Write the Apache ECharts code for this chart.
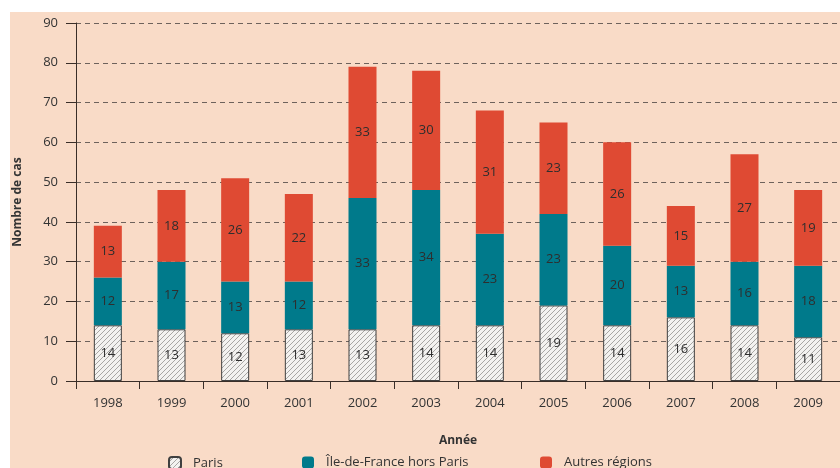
<!DOCTYPE html>
<html>
<head>
<meta charset="utf-8">
<script src="https://cdn.jsdelivr.net/npm/echarts@6/dist/echarts.min.js"></script>
<style>
  html, body { margin: 0; padding: 0; background: #fff; }
  #chart { width: 840px; height: 468px; }
</style>
</head>
<body>
<div id="chart"></div>
<script>
var years = ["1998", "1999", "2000", "2001", "2002", "2003", "2004", "2005", "2006", "2007", "2008", "2009"];
var paris = [14, 13, 12, 13, 13, 14, 14, 19, 14, 16, 14, 11];
var idf = [12, 17, 13, 12, 33, 34, 23, 23, 20, 13, 16, 18];
var autres = [13, 18, 26, 22, 33, 30, 31, 23, 26, 15, 27, 19];

// hatch pattern for Paris
function hatch() {
  var c = document.createElement("canvas");
  c.width = 5;
  c.height = 5;
  var ctx = c.getContext("2d");
  ctx.fillStyle = "#f3f2f0";
  ctx.fillRect(0, 0, 5, 5);
  ctx.strokeStyle = "#a8a6a4";
  ctx.lineWidth = 1;
  ctx.beginPath();
  ctx.moveTo(0, 5); ctx.lineTo(5, 0);
  ctx.moveTo(-2.5, 2.5); ctx.lineTo(2.5, -2.5);
  ctx.moveTo(2.5, 7.5); ctx.lineTo(7.5, 2.5);
  ctx.stroke();
  return c;
}

var font = "'Open Sans', 'Noto Sans', sans-serif";
var myChart = echarts.init(document.getElementById("chart"));

var label = {
  show: true,
  position: "inside",
  color: "#2e2e2e",
  fontSize: 13,
  fontFamily: font
};

var legendText = { fontFamily: font, fontSize: 13, color: "#333", padding: [0, 0, 0, 7] };

var option = {
  animation: false,
  backgroundColor: "#fff",
  graphic: [{
    type: "rect",
    z: -10,
    shape: { x: 10, y: 12, width: 830, height: 456 },
    style: { fill: "#f9dbc7" }
  }],
  grid: { left: 76, top: 23, width: 766, height: 358 },
  legend: [
    { data: ["Paris"], left: 163, top: 451, itemWidth: 12, itemHeight: 12, textStyle: legendText },
    { data: ["Île-de-France hors Paris"], left: 297, top: 451, itemWidth: 12, itemHeight: 12, textStyle: legendText },
    { data: ["Autres régions"], left: 535, top: 451, itemWidth: 12, itemHeight: 12, textStyle: legendText }
  ],
  xAxis: {
    type: "category",
    data: years,
    name: "Année",
    nameLocation: "middle",
    nameGap: 54,
    nameTextStyle: { fontFamily: font, fontSize: 12, fontWeight: "bold", color: "#333" },
    axisLine: { lineStyle: { color: "#3a2e28", width: 1 } },
    axisTick: { show: true, length: 8, lineStyle: { color: "#3a2e28" } },
    axisLabel: { color: "#333", fontSize: 13, fontFamily: font, margin: 16 }
  },
  yAxis: {
    type: "value",
    min: 0,
    max: 90,
    interval: 10,
    name: "Nombre de cas",
    nameLocation: "middle",
    nameGap: 52,
    nameTextStyle: { fontFamily: font, fontSize: 12, fontWeight: "bold", color: "#333" },
    axisLine: { show: true, lineStyle: { color: "#3a2e28", width: 1 } },
    axisTick: { show: true, length: 10, lineStyle: { color: "#3a2e28" } },
    axisLabel: { color: "#333", fontSize: 13, fontFamily: font, margin: 18 },
    splitLine: { lineStyle: { color: "#6e625c", type: [5, 4], width: 1 } }
  },
  series: [
    {
      name: "Paris",
      type: "bar",
      stack: "total",
      barWidth: 28,
      data: paris,
      label: label,
      itemStyle: {
        color: { image: hatch(), repeat: "repeat" },
        borderColor: "#3f3f3f",
        borderWidth: 1
      }
    },
    {
      name: "Île-de-France hors Paris",
      type: "bar",
      stack: "total",
      barWidth: 28,
      data: idf,
      label: label,
      itemStyle: { color: "#007a8b" }
    },
    {
      name: "Autres régions",
      type: "bar",
      stack: "total",
      barWidth: 28,
      data: autres,
      label: label,
      itemStyle: { color: "#df4a33" }
    }
  ]
};

option && myChart.setOption(option);
</script>
</body>
</html>
